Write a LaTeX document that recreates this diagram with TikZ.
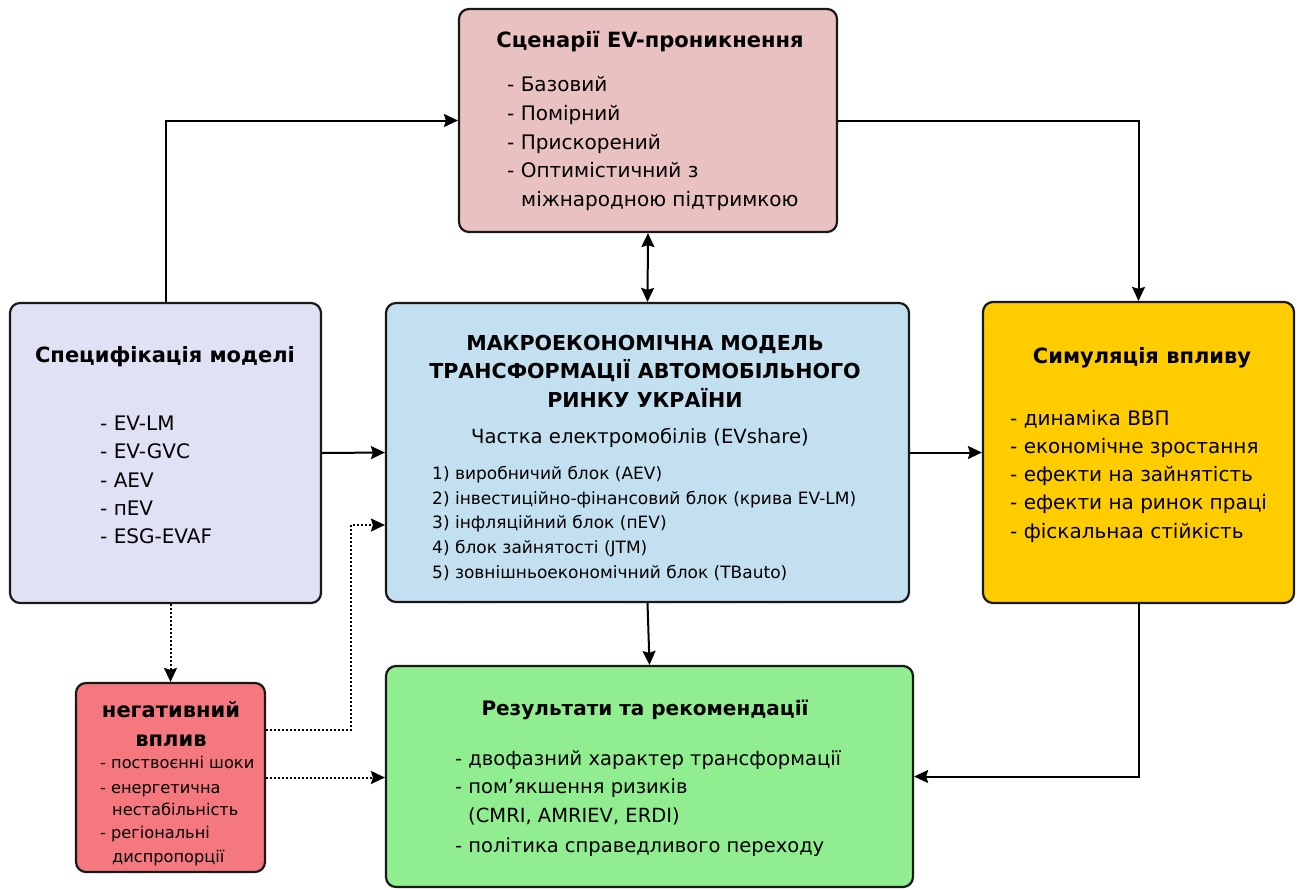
\documentclass[tikz,border=0pt]{standalone}
\usepackage{fontspec}
\setmainfont{DejaVu Sans}
\usetikzlibrary{arrows.meta}
\definecolor{cscen}{HTML}{EAC1C1}
\definecolor{cspec}{HTML}{E1E1F6}
\definecolor{cmacro}{HTML}{C3E0F0}
\definecolor{csim}{HTML}{FFCC00}
\definecolor{cneg}{HTML}{F5787F}
\definecolor{cres}{HTML}{90EE90}
\tikzset{
  box/.style={draw=black!90, line width=2.2pt, rounded corners=10pt, inner sep=0pt},
  ttl/.style={anchor=base, inner sep=0pt, font=\fontsize{21}{25}\selectfont\bfseries},
  itm/.style={anchor=base west, inner sep=0pt, font=\fontsize{20}{24}\selectfont},
  mitm/.style={anchor=base west, inner sep=0pt, font=\fontsize{17}{20}\selectfont},
  nitm/.style={anchor=base west, inner sep=0pt, font=\fontsize{16.2}{19}\selectfont},
  tip/.tip={Stealth[length=14pt,width=13pt,inset=2pt]},
  conn/.style={line width=2pt, -tip},
  dconn/.style={line width=2pt, tip-tip},
  dot/.style={line width=2pt, dash pattern=on 2pt off 2pt, -tip}
}
\begin{document}
\begin{tikzpicture}[x=1pt,y=-1pt]
\useasboundingbox[fill=white] (0,0) rectangle (1300,889);
% boxes
\node[box, fill=cscen, minimum width=378pt, minimum height=223pt] (scen) at (648,120.5) {};
\node[box, fill=cspec, minimum width=311pt, minimum height=300pt] (spec) at (165.5,453) {};
\node[box, fill=cmacro, minimum width=523pt, minimum height=299pt] (macro) at (647.5,452.5) {};
\node[box, fill=csim, minimum width=311pt, minimum height=301pt] (sim) at (1138.5,452.5) {};
\node[box, fill=cneg, minimum width=189pt, minimum height=189pt] (neg) at (170.5,777.5) {};
\node[box, fill=cres, minimum width=527pt, minimum height=221pt] (res) at (649.5,776.5) {};
% scenarios text
\node[ttl] (scenT) at (650,47) {Сценарії EV-проникнення};
\node[itm] (sc1) at (507,91) {- Базовий};
\node[itm] (sc2) at (507,120) {- Помірний};
\node[itm] (sc3) at (507,149) {- Прискорений};
\node[itm] (sc4) at (507,177) {- Оптимістичний з};
\node[itm] (sc5) at (521,206) {міжнародною підтримкою};
% spec text
\node[ttl] (specT) at (165,362) {Специфікація моделі};
\node[itm] (sp1) at (100,430) {- EV-LM};
\node[itm] (sp2) at (100,458) {- EV-GVC};
\node[itm] (sp3) at (100,487) {- AEV};
\node[itm] (sp4) at (100,515) {- пEV};
\node[itm] (sp5) at (100,543) {- ESG-EVAF};
% macro text
\node[ttl, font=\fontsize{20.6}{24}\selectfont\bfseries] (mT1) at (645,350) {МАКРОЕКОНОМІЧНА МОДЕЛЬ};
\node[ttl, font=\fontsize{20.6}{24}\selectfont\bfseries] (mT2) at (645,378) {ТРАНСФОРМАЦІЇ АВТОМОБІЛЬНОГО};
\node[ttl, font=\fontsize{20.6}{24}\selectfont\bfseries] (mT3) at (645,407) {РИНКУ УКРАЇНИ};
\node[ttl, font=\fontsize{19.6}{23}\selectfont] (mS) at (640,443) {Частка електромобілів (EVshare)};
\node[mitm] (m1) at (432,479) {1) виробничий блок (AEV)};
\node[mitm] (m2) at (432,504) {2) інвестиційно-фінансовий блок (крива EV-LM)};
\node[mitm] (m3) at (432,528) {3) інфляційний блок (пEV)};
\node[mitm] (m4) at (432,553) {4) блок зайнятості (JTM)};
\node[mitm] (m5) at (432,578) {5) зовнішньоекономічний блок (TBauto)};
% sim text
\node[ttl] (simT) at (1142,363) {Симуляція впливу};
\node[itm] (si1) at (1010,425) {- динаміка ВВП};
\node[itm] (si2) at (1010,453) {- економічне зростання};
\node[itm] (si3) at (1010,481) {- ефекти на зайнятість};
\node[itm] (si4) at (1010,509) {- ефекти на ринок праці};
\node[itm] (si5) at (1010,538) {- фіскальнаа стійкість};
% negative text
\node[ttl] (nT1) at (171,717) {негативний};
\node[ttl] (nT2) at (171,746) {вплив};
\node[nitm] (n1) at (100,768) {- поствоєнні шоки};
\node[nitm] (n2) at (100,793) {- енергетична};
\node[nitm] (n3) at (112,815) {нестабільність};
\node[nitm] (n4) at (100,838) {- регіональні};
\node[nitm] (n5) at (112,862) {диспропорції};
% results text
\node[ttl, font=\fontsize{20}{24}\selectfont\bfseries] (rT) at (645,715) {Результати та рекомендації};
\node[itm, font=\fontsize{19.5}{23}\selectfont] (r1) at (455,765) {- двофазний характер трансформації};
\node[itm, font=\fontsize{19.5}{23}\selectfont] (r2) at (455,793) {- пом’якшення ризиків};
\node[itm, font=\fontsize{19.5}{23}\selectfont] (r3) at (468,822) {(CMRI, AMRIEV, ERDI)};
\node[itm, font=\fontsize{19.5}{23}\selectfont] (r4) at (455,852) {- політика справедливого переходу};
% connectors
\draw[conn] (spec.north) |- (scen.west);
\draw[conn] (scen.east) -| (sim.north);
\draw[dconn] (scen.south) -- (macro.north);
\draw[conn] (spec.east) -- (macro.west);
\draw[conn] (macro.east) -- (sim.west);
\draw[conn] (macro.south) -- (res.north);
\draw[conn] (sim.south) |- (res.east);
\draw[dot] (neg.north |- spec.south) -- (neg.north);
\draw[dot] ([yshift=47.5pt]neg.east) -- ++(85,0) |- ([yshift=-72.5pt]macro.west);
\draw[dot] (neg.east) -- (neg.east -| res.west);
\end{tikzpicture}
\end{document}
